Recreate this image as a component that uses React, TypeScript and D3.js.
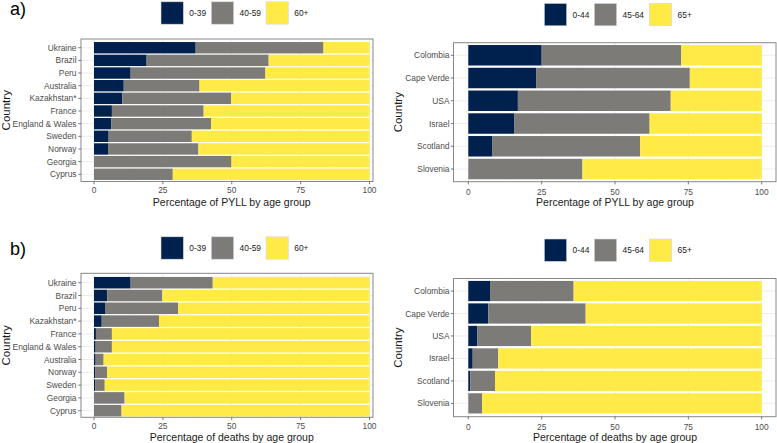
import React from 'react'
import * as d3 from 'd3'

// cividis, 3 classes
const palette = ['#00204D', '#7C7B78', '#FFEA46']

const groupsLeft = ['0-39', '40-59', '60+']
const groupsRight = ['0-44', '45-64', '65+']

const countriesPyllLeft = ['Ukraine', 'Brazil', 'Peru', 'Australia', 'Kazakhstan*', 'France', 'England & Wales', 'Sweden', 'Norway', 'Georgia', 'Cyprus']
const pyllLeftYoung = [36.9, 19.1, 13.3, 10.8, 10.3, 6.5, 6.3, 5.3, 5.1, 0, 0]
const pyllLeftMid = [46.4, 44.3, 48.9, 27.5, 39.5, 33.3, 36.2, 30.2, 32.8, 49.9, 28.6]
const pyllLeftOld = [16.7, 36.6, 37.8, 61.7, 50.2, 60.2, 57.5, 64.5, 62.1, 50.1, 71.4]

const countriesPyllRight = ['Colombia', 'Cape Verde', 'USA', 'Israel', 'Scotland', 'Slovenia']
const pyllRightYoung = [25.0, 23.1, 16.9, 15.6, 8.1, 0]
const pyllRightMid = [47.6, 52.4, 52.1, 46.2, 50.5, 38.9]
const pyllRightOld = [27.4, 24.5, 31.0, 38.2, 41.4, 61.1]

const countriesDeathsLeft = ['Ukraine', 'Brazil', 'Peru', 'Kazakhstan*', 'France', 'England & Wales', 'Australia', 'Norway', 'Sweden', 'Georgia', 'Cyprus']
const deathsLeftYoung = [13.3, 4.8, 4.0, 2.8, 0.7, 0.6, 0.6, 0.4, 0.4, 0, 0]
const deathsLeftMid = [29.8, 20.0, 26.5, 20.8, 5.8, 5.9, 2.9, 4.4, 3.5, 11.1, 10.0]
const deathsLeftOld = [56.9, 75.2, 69.5, 76.4, 93.5, 93.5, 96.5, 95.2, 96.1, 88.9, 90.0]

const countriesDeathsRight = ['Colombia', 'Cape Verde', 'USA', 'Israel', 'Scotland', 'Slovenia']
const deathsRightYoung = [7.4, 6.8, 3.1, 1.5, 0.7, 0]
const deathsRightMid = [28.5, 33.2, 18.3, 8.7, 8.4, 4.7]
const deathsRightOld = [64.1, 60.0, 78.6, 89.8, 90.9, 95.3]

const xTicks = [0, 25, 50, 75, 100]
const xMinor = [12.5, 37.5, 62.5, 87.5]

const FONT = "'Liberation Sans', Arial, sans-serif"

type Layout = {
  border: [number, number, number, number] // x0, x1, y0, y1
  xr: [number, number]
  yr: [number, number]
  tickY: number
  titleY: number
  labelEnd: number
  countryX: number
  legendX: number[]
  legendY: number
}

const Panel = ({ countries, series, groups, title, layout }: {
  countries: string[], series: number[][], groups: string[], title: string, layout: Layout
}) => {
  const [bx0, bx1, by0, by1] = layout.border
  const rows = countries.map((c, i) => ({ country: c, g0: series[0][i], g1: series[1][i], g2: series[2][i] }))
  const stacked = d3.stack<any>().keys(['g0', 'g1', 'g2'])(rows)

  const x = d3.scaleLinear().domain([0, 100]).range(layout.xr)
  const y = d3.scaleBand().domain(countries).range(layout.yr).paddingInner(0.1).paddingOuter(0.05)

  const cy = (by0 + by1) / 2

  return (
    <g fontFamily={FONT}>
      {/* legend */}
      {groups.map((g, i) => (
        <g key={g}>
          <rect x={layout.legendX[i]} y={layout.legendY} width={22.4} height={22.4}
            fill={palette[i]} stroke="#d9d9d9" strokeWidth={0.6} />
          <text x={layout.legendX[i] + 28.3} y={layout.legendY + 11.3} dominantBaseline="central"
            fontSize={8.4} fill="#1a1a1a">{g}</text>
        </g>
      ))}

      <rect x={bx0} y={by0} width={bx1 - bx0} height={by1 - by0} fill="white" />
      {/* grid */}
      {xMinor.map(t => (
        <line key={'m' + t} x1={x(t)} x2={x(t)} y1={by0} y2={by1} stroke="#f4f4f4" strokeWidth={0.6} />
      ))}
      {xTicks.map(t => (
        <line key={'g' + t} x1={x(t)} x2={x(t)} y1={by0} y2={by1} stroke="#ebebeb" strokeWidth={0.9} />
      ))}
      {countries.map(c => (
        <line key={'h' + c} x1={bx0} x2={bx1} y1={y(c)! + y.bandwidth() / 2} y2={y(c)! + y.bandwidth() / 2}
          stroke="#ebebeb" strokeWidth={0.9} />
      ))}

      {/* bars */}
      {stacked.map((s, i) => (
        <g key={s.key} fill={palette[i]}>
          {s.map((d, j) => d[1] - d[0] > 0 ? (
            <rect key={j} x={x(d[0])} width={x(d[1]) - x(d[0])}
              y={y(d.data.country)} height={y.bandwidth()} />
          ) : null)}
        </g>
      ))}

      <rect x={bx0} y={by0} width={bx1 - bx0} height={by1 - by0} fill="none" stroke="#888" strokeWidth={1} />

      {/* y axis */}
      {countries.map(c => {
        const yc = y(c)! + y.bandwidth() / 2
        return (
          <g key={'y' + c}>
            <line x1={bx0 - 2.7} x2={bx0} y1={yc} y2={yc} stroke="#555" strokeWidth={0.8} />
            <text x={layout.labelEnd} y={yc} textAnchor="end" dominantBaseline="central"
              fontSize={8.4} fill="#4d4d4d">{c}</text>
          </g>
        )
      })}
      <text transform={`translate(${layout.countryX},${cy}) rotate(-90)`} textAnchor="middle"
        fontSize={11.5} fill="#1a1a1a">Country</text>

      {/* x axis */}
      {xTicks.map(t => (
        <g key={'x' + t}>
          <line x1={x(t)} x2={x(t)} y1={by1} y2={by1 + 2.7} stroke="#555" strokeWidth={0.8} />
          <text x={x(t)} y={layout.tickY} textAnchor="middle" dominantBaseline="central"
            fontSize={8.4} fill="#4d4d4d">{t}</text>
        </g>
      ))}
      <text x={(layout.xr[0] + layout.xr[1]) / 2} y={layout.titleY} textAnchor="middle" dominantBaseline="central"
        fontSize={10.5} fill="#1a1a1a">{title}</text>
    </g>
  )
}

const layoutAL: Layout = {
  border: [81, 373, 39, 181.5], xr: [94, 369.5], yr: [41.4, 180.6],
  tickY: 190, titleY: 201.7, labelEnd: 76.5, countryX: 9.8,
  legendX: [161, 211.3, 266], legendY: 1.8,
}
const layoutAR: Layout = {
  border: [453.5, 776, 42.7, 181.7], xr: [468.3, 761.7], yr: [43.9, 180.4],
  tickY: 191.7, titleY: 201.7, labelEnd: 449.5, countryX: 402.3,
  legendX: [544.3, 594.3, 649.3], legendY: 3.4,
}
const layoutBL: Layout = {
  border: [81, 373, 273.3, 417.3], xr: [94, 369.5], yr: [276.3, 417.1],
  tickY: 425.7, titleY: 437.3, labelEnd: 76.5, countryX: 9.8,
  legendX: [161, 211.3, 266], legendY: 236.8,
}
const layoutBR: Layout = {
  border: [453.5, 776, 278.5, 416.7], xr: [468.3, 761.7], yr: [279.8, 414.6],
  tickY: 427.3, titleY: 437.3, labelEnd: 449.5, countryX: 402.3,
  legendX: [544.3, 594.3, 649.3], legendY: 239,
}

export default function App() {
  return (
    <svg width={777} height={443} style={{ position: 'absolute', left: 0, top: 0, background: 'white' }}>
      <rect width={777} height={443} fill="white" />
      <text x={10} y={15} fontSize={18} fontFamily={FONT} fill="#000">a)</text>
      <text x={10} y={255} fontSize={18} fontFamily={FONT} fill="#000">b)</text>
      <Panel countries={countriesPyllLeft} series={[pyllLeftYoung, pyllLeftMid, pyllLeftOld]}
        groups={groupsLeft} title="Percentage of PYLL by age group" layout={layoutAL} />
      <Panel countries={countriesPyllRight} series={[pyllRightYoung, pyllRightMid, pyllRightOld]}
        groups={groupsRight} title="Percentage of PYLL by age group" layout={layoutAR} />
      <Panel countries={countriesDeathsLeft} series={[deathsLeftYoung, deathsLeftMid, deathsLeftOld]}
        groups={groupsLeft} title="Percentage of deaths by age group" layout={layoutBL} />
      <Panel countries={countriesDeathsRight} series={[deathsRightYoung, deathsRightMid, deathsRightOld]}
        groups={groupsRight} title="Percentage of deaths by age group" layout={layoutBR} />
    </svg>
  )
}
